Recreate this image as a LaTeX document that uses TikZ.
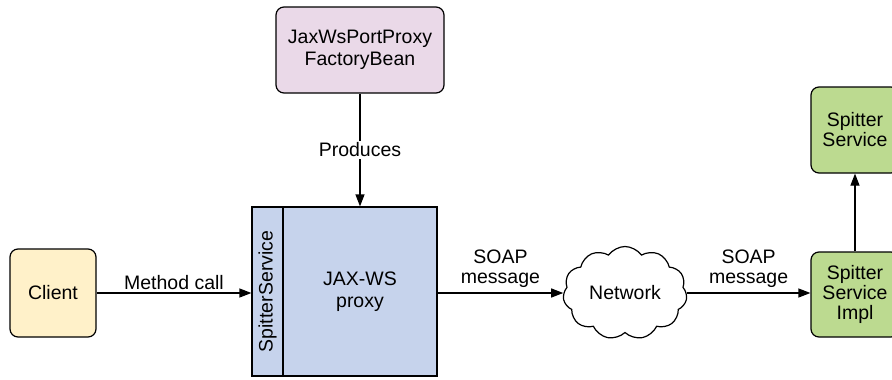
\documentclass[tikz,border=0pt]{standalone}
\usepackage{fontspec}
\setmainfont{Liberation Sans}
\usetikzlibrary{arrows.meta,shapes.symbols}

\definecolor{clientfill}{HTML}{FFF1C9}
\definecolor{beanfill}{HTML}{EAD9E8}
\definecolor{proxyfill}{HTML}{C6D3EC}
\definecolor{implfill}{HTML}{BCDA90}

\begin{document}
\begin{tikzpicture}[x=1pt,y=-1pt,
  font=\fontsize{19.5}{23}\selectfont,
  line width=1.2pt,
  >={Triangle[length=12pt,width=9pt]},
  box/.style={draw,rounded corners=8pt,align=center,inner sep=0pt},
  flat/.style={draw,align=center,inner sep=0pt},
  lbl/.style={align=center,inner sep=3pt}]
\useasboundingbox (0,0) rectangle (892,380);

% boxes
\node[box,fill=clientfill,minimum width=86,minimum height=88] (client) at (53,293) {Client};
\node[box,fill=beanfill,minimum width=168,minimum height=86] (bean) at (360,50)
  {JaxWsPortProxy\\[-1pt]FactoryBean};
\node[flat,fill=proxyfill,minimum width=31,minimum height=169] (iface) at (267.5,291.5) {};
\node[rotate=90] at (iface.center) {SpitterService};
\node[flat,fill=proxyfill,minimum width=154,minimum height=169] (proxy) at (360,291.5)
  {JAX-WS\\[-1pt]proxy};
\node[cloud,draw,cloud puffs=11,cloud puff arc=110,aspect=1.4,
  minimum width=124,minimum height=93,inner sep=0pt] (net) at (625,293) {Network};
\node[box,fill=implfill,minimum width=88,minimum height=85] (impl) at (855,294.5)
  {Spitter\\[-3pt]Service\\[-3pt]Impl};
\node[box,fill=implfill,minimum width=88,minimum height=86] (svc) at (855,130)
  {Spitter\\[-3pt]Service};

% connectors
\draw[->] (client.east) -- node[lbl,above] {Method call} (iface.west |- client.east);
\draw[->] (bean.south) -- node[fill=white,inner sep=2pt] {Produces} (proxy.north);
\draw[->] (proxy.east |- net.west) -- node[lbl,above,inner sep=5pt] {SOAP\\[-3pt]message} (net.west);
\draw[->] (net.east) -- node[lbl,above,inner sep=5pt] {SOAP\\[-3pt]message} (impl.west |- net.east);
\draw[->] (impl.north) -- (svc.south);
\end{tikzpicture}
\end{document}
